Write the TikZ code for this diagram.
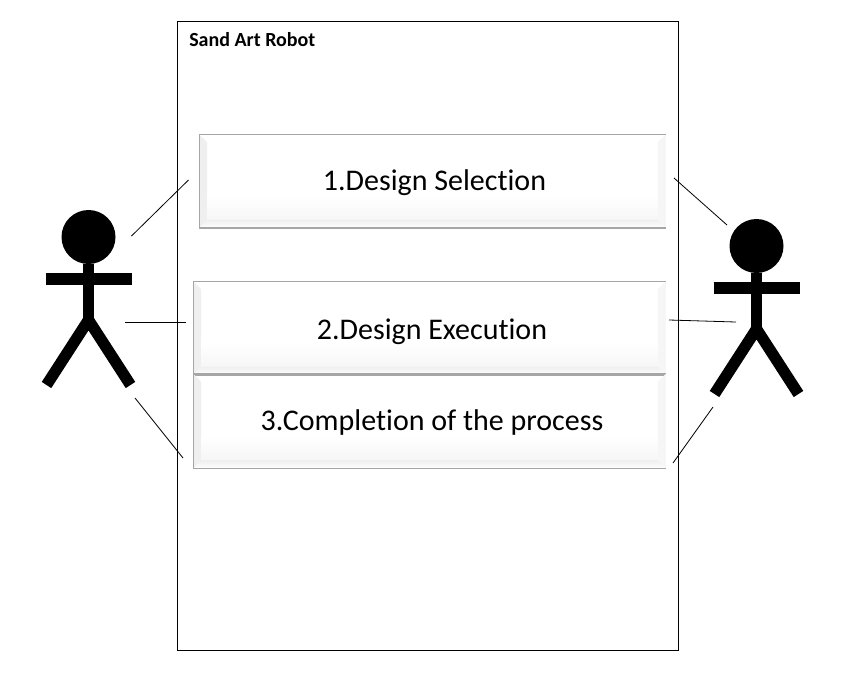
\documentclass[tikz,border=0pt]{standalone}
\usepackage{fontspec}
\setmainfont[Ligatures=NoCommon]{Carlito}
\usepackage{tikz}
\usetikzlibrary{calc}
\definecolor{edgegray}{HTML}{A6A6A6}
\definecolor{bevelgray}{HTML}{EFEFEF}
\definecolor{lowgray}{HTML}{F6F6F6}

\tikzset{
  stepbox/.style={fill=white, inner sep=0pt},
  steptext/.style={font=\fontsize{22.5}{27}\selectfont},
  actorline/.style={line width=8.5pt, line cap=butt, black},
  linkline/.style={black, line width=0.6pt},
}

\begin{document}
\begin{tikzpicture}[x=0.75pt, y=-0.75pt]
\useasboundingbox (0,0) rectangle (861,690);

\node[draw, line width=0.75pt, minimum width=375.75pt, minimum height=471.5pt, inner sep=0pt] (frame) at (428,335.7) {};
\node[anchor=west, inner sep=0pt, font=\fontsize{15}{18}\selectfont\bfseries] (title) at (189,39.5) {Sand Art Robot};

\node[stepbox, minimum width=349.5pt, minimum height=69.75pt] (design) at (432.5,181) {};
\node[stepbox, minimum width=354pt, minimum height=69.75pt] (execution) at (429.5,328) {};
\node[stepbox, minimum width=354pt, minimum height=70.5pt] (completion) at (429.5,421) {};

% bevels of the three boxes
\foreach \boxname in {design, execution, completion} {
  \fill[bevelgray] (\boxname.north west) -- ++(8,8) -- ($(\boxname.south west)+(8,-8)$) -- (\boxname.south west) -- cycle;
  \fill[lowgray] (\boxname.north east) -- ++(-8,8) -- ($(\boxname.south east)+(-8,-8)$) -- (\boxname.south east) -- cycle;
  \shade[top color=white, bottom color=lowgray] ($(\boxname.south west)+(8,-32)$) rectangle ($(\boxname.south east)+(-8,-8)$);
  \shade[top color=bevelgray, bottom color=white] ($(\boxname.south west)+(8,-8)$) -- ($(\boxname.south east)+(-8,-8)$) -- (\boxname.south east) -- (\boxname.south west) -- cycle;
  \draw[edgegray, line width=1.1pt] (\boxname.north east) -- (\boxname.north west) -- (\boxname.south west) -- (\boxname.south east);
}

\node[steptext] (designtext) at (434.5,182.5) {1.Design Selection};
\node[steptext] (executiontext) at (432,332) {2.Design Execution};
\node[steptext] (completiontext) at (432,422) {3.Completion of the process};

% the two actors
\foreach \actor/\ax/\ay in {left/88.5/237, right/756.5/246} {
  \node[circle, fill=black, minimum size=40.5pt, inner sep=0pt] (\actor head) at (\ax,\ay) {};
  \coordinate (\actor hip) at (\ax,\ay+83);
  \coordinate (\actor handa) at (\ax-43,\ay+42);
  \coordinate (\actor handb) at (\ax+43,\ay+42);
  \coordinate (\actor foota) at (\ax-42,\ay+148);
  \coordinate (\actor footb) at (\ax+42,\ay+148);
  \draw[actorline] (\actor head) -- (\actor hip);
  \draw[actorline] (\actor handa) -- (\actor handb);
  \draw[actorline, line join=miter] (\actor foota) -- (\actor hip) -- (\actor footb);
}

\coordinate (la1) at (131.5,236); \coordinate (la2) at (188.5,180);
\coordinate (lb1) at (125,322); \coordinate (lb2) at (186,322);
\coordinate (lc1) at (135,398); \coordinate (lc2) at (183,458);
\coordinate (ra1) at (674,178); \coordinate (ra2) at (727,225);
\coordinate (rb1) at (669,320); \coordinate (rb2) at (736,322);
\coordinate (rc1) at (713,407); \coordinate (rc2) at (673,463);

\foreach \linka/\linkb in {la1/la2, lb1/lb2, lc1/lc2, ra1/ra2, rb1/rb2, rc1/rc2}
  \draw[linkline] (\linka) -- (\linkb);

\end{tikzpicture}
\end{document}
